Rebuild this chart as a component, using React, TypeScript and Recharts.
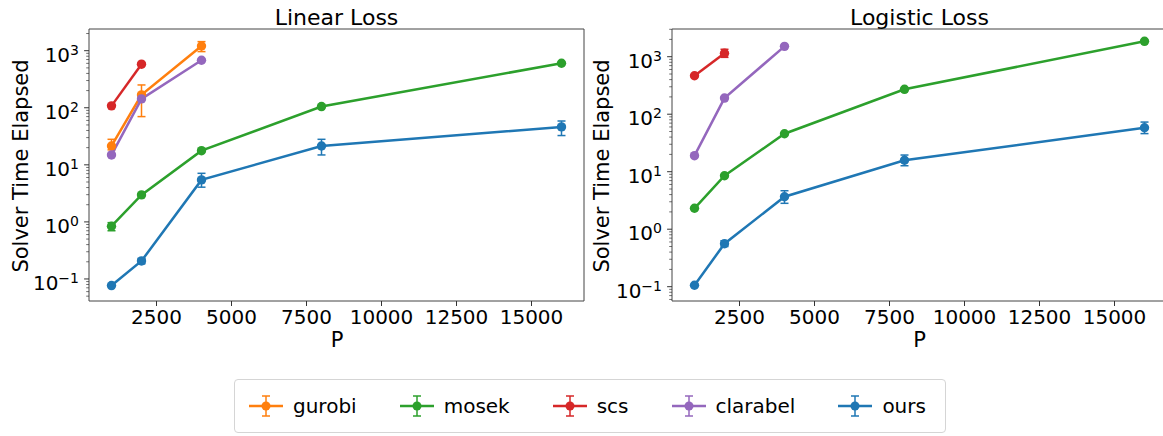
import React from "react";
import { LineChart, Line, XAxis, YAxis, ErrorBar, ReferenceArea } from "recharts";

const P = [1000, 2000, 4000, 8000, 16000];
const X_TICKS = [2500, 5000, 7500, 10000, 12500, 15000];
const Y_MAJOR = [0.1, 1, 10, 100, 1000];

// Linear loss (seconds), [low, high] error bounds, null = no visible bar
const linGurobi = [21.4, 168, 1210];
const linGurobiErr = [[18.3, 28], [70, 251], [964, 1442]];
const linMosek = [0.84, 2.97, 17.7, 105, 603];
const linMosekErr = [[0.7, 0.97], null, null, null, null];
const linScs = [108, 580];
const linScsErr = [null, null];
const linClarabel = [14.9, 143, 680];
const linClarabelErr = [null, null, null];
const linOurs = [0.0766, 0.207, 5.44, 21.4, 46.2];
const linOursErr = [null, [0.185, 0.228], [4.06, 7.1], [14.9, 28], [32.6, 58.6]];

// Logistic loss
const logMosek = [2.31, 8.5, 45.8, 271, 1853];
const logMosekErr = [null, null, null, null, null];
const logScs = [467, 1146];
const logScsErr = [null, [975, 1346]];
const logClarabel = [19, 191, 1514];
const logClarabelErr = [null, null, null];
const logOurs = [0.106, 0.56, 3.67, 15.8, 58.2];
const logOursErr = [null, [0.5, 0.63], [2.82, 4.67], [12.7, 19.5], [46, 73]];

const COLORS: Record<string, string> = {
  gurobi: "#ff7f0e",
  mosek: "#2ca02c",
  scs: "#d62728",
  clarabel: "#9467bd",
  ours: "#1f77b4",
};
const LEGEND = ["gurobi", "mosek", "scs", "clarabel", "ours"];

const FONT = "DejaVu Sans";

type S = { key: string; values: number[]; err: (number[] | null)[] };

function buildRows(series: S[]) {
  return P.map((p, i) => {
    const row: any = { p };
    series.forEach((s) => {
      const v = s.values[i];
      if (v == null) return;
      row[s.key] = v;
      const e = s.err[i];
      if (e) row[s.key + "Err"] = [v - e[0], e[1] - v];
    });
    return row;
  });
}

function minorTicks(lo: number, hi: number) {
  const out: number[] = [];
  for (let d = -3; d <= 4; d++) {
    for (let m = 2; m <= 9; m++) {
      const v = m * Math.pow(10, d);
      if (v > lo && v < hi) out.push(v);
    }
  }
  return out;
}

const linearSeries: S[] = [
  { key: "gurobi", values: linGurobi, err: linGurobiErr },
  { key: "mosek", values: linMosek, err: linMosekErr },
  { key: "scs", values: linScs, err: linScsErr },
  { key: "clarabel", values: linClarabel, err: linClarabelErr },
  { key: "ours", values: linOurs, err: linOursErr },
];
const logisticSeries: S[] = [
  { key: "mosek", values: logMosek, err: logMosekErr },
  { key: "scs", values: logScs, err: logScsErr },
  { key: "clarabel", values: logClarabel, err: logClarabelErr },
  { key: "ours", values: logOurs, err: logOursErr },
];

const LogTick = (props: any) => {
  const { x, y, payload } = props;
  const v = payload.value;
  const lg = Math.log10(v);
  const exp = Math.round(lg);
  const major = Math.abs(lg - exp) < 1e-6;
  return (
    <g>
      <line x1={x - (major ? 4.9 : 2.8)} x2={x} y1={y} y2={y} stroke="#333" strokeWidth={major ? 1 : 0.7} />
      {major && (
        <text x={x - 10} y={y + 11} textAnchor="end" fontSize={20} fill="#000" fontFamily={FONT}>
          10
          <tspan dy={-7} fontSize={14}>{exp < 0 ? "\u2212" + -exp : String(exp)}</tspan>
        </text>
      )}
    </g>
  );
};

function Panel({ series, yDomain, left, marginLeft, marginRight }: any) {
  const rows = buildRows(series);
  const yTicks = [...Y_MAJOR, ...minorTicks(yDomain[0], yDomain[1])];
  return (
    <div style={{ position: "absolute", left, top: 0 }}>
      <LineChart
        width={600}
        height={350}
        data={rows}
        margin={{ top: 29, right: marginRight, bottom: 9, left: marginLeft }}
      >
        <XAxis
          dataKey="p"
          type="number"
          domain={[250, 16750]}
          allowDataOverflow
          ticks={X_TICKS}
          interval={0}
          height={40}
          axisLine={false}
          tickSize={5}
          tickMargin={4}
          tickLine={{ stroke: "#333" }}
          tick={{ fill: "#000", fontSize: 20, fontFamily: FONT }}
        />
        <YAxis
          type="number"
          scale="log"
          domain={yDomain}
          allowDataOverflow
          ticks={yTicks}
          interval={0}
          width={80}
          axisLine={false}
          tickLine={false}
          tickSize={0}
          tickMargin={0}
          tick={<LogTick />}
        />
        <ReferenceArea
          x1={250}
          x2={16750}
          y1={yDomain[0]}
          y2={yDomain[1]}
          ifOverflow="visible"
          fill="none"
          stroke="#444"
          strokeWidth={1}
        />
        {series.map((s: S) => (
          <Line
            key={s.key}
            dataKey={s.key}
            type="linear"
            stroke={COLORS[s.key]}
            strokeWidth={2.5}
            dot={{ r: 4.7, fill: COLORS[s.key], stroke: COLORS[s.key], strokeWidth: 0 }}
            activeDot={false}
            isAnimationActive={false}
          >
            <ErrorBar dataKey={s.key + "Err"} width={4} strokeWidth={1.5} stroke={COLORS[s.key]} direction="y" />
          </Line>
        ))}
      </LineChart>
    </div>
  );
}

function LegendIcon({ color }: { color: string }) {
  return (
    <svg width={34} height={24} style={{ display: "block" }}>
      <line x1={0} x2={34} y1={12} y2={12} stroke={color} strokeWidth={2.5} />
      <line x1={17} x2={17} y1={2} y2={22} stroke={color} strokeWidth={1.5} />
      <line x1={13} x2={21} y1={2} y2={2} stroke={color} strokeWidth={1.5} />
      <line x1={13} x2={21} y1={22} y2={22} stroke={color} strokeWidth={1.5} />
      <circle cx={17} cy={12} r={4.5} fill={color} />
    </svg>
  );
}

export default function App() {
  return (
    <div
      style={{
        position: "absolute",
        left: 0,
        top: 0,
        width: 1163,
        height: 436,
        overflow: "hidden",
        background: "#fff",
        fontFamily: FONT,
      }}
    >
      <Panel series={linearSeries} yDomain={[0.0411, 2400]} left={0} marginLeft={9} marginRight={16} />
      <Panel series={logisticSeries} yDomain={[0.0564, 3034]} left={580} marginLeft={12} marginRight={13} />
      <svg width={1163} height={436} style={{ position: "absolute", left: 0, top: 0, pointerEvents: "none" }}>
        <g fontFamily={FONT} fill="#000">
          <text x={336.5} y={25} fontSize={22} textAnchor="middle">Linear Loss</text>
          <text x={919.5} y={25} fontSize={22} textAnchor="middle">Logistic Loss</text>
          <text x={337} y={347} fontSize={21} textAnchor="middle">P</text>
          <text x={919.5} y={347} fontSize={21} textAnchor="middle">P</text>
          <text transform="translate(28,166) rotate(-90)" fontSize={21} textAnchor="middle">Solver Time Elapsed</text>
          <text transform="translate(609,166) rotate(-90)" fontSize={21} textAnchor="middle">Solver Time Elapsed</text>
        </g>
      </svg>
      <div
        style={{
          position: "absolute",
          left: 234,
          top: 379,
          width: 696,
          height: 52,
          border: "1px solid #d5d5d5",
          borderRadius: 4,
          display: "flex",
          alignItems: "center",
          paddingLeft: 14,
          boxSizing: "content-box",
          gap: 43,
        }}
      >
        {LEGEND.map((k) => (
          <div key={k} style={{ display: "flex", alignItems: "center", gap: 10 }}>
            <LegendIcon color={COLORS[k]} />
            <span style={{ fontSize: 20, color: "#000", lineHeight: "24px" }}>{k}</span>
          </div>
        ))}
      </div>
    </div>
  );
}
